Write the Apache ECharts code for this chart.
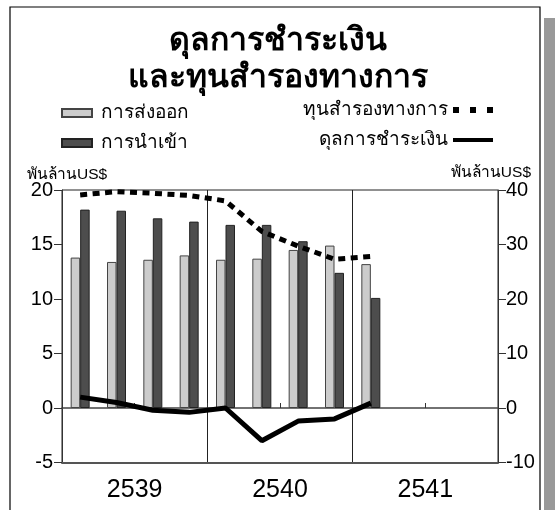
<!DOCTYPE html>
<html>
<head>
<meta charset="utf-8">
<script src="https://cdn.jsdelivr.net/npm/echarts@6/dist/echarts.min.js"></script>
<style>
html,body{margin:0;padding:0;background:#fff;}
#c{width:555px;height:510px;}
</style>
</head>
<body>
<div id="c"></div>
<script>
// ---- data ----
const quarters = ['2539 Q1','2539 Q2','2539 Q3','2539 Q4','2540 Q1','2540 Q2','2540 Q3','2540 Q4','2541 Q1','2541 Q2','2541 Q3','2541 Q4'];
const years = ['2539','2540','2541'];
const exportsVal = [13.8, 13.4, 13.6, 14.0, 13.6, 13.7, 14.5, 14.9, 13.2, null, null, null];
const importsVal = [18.2, 18.1, 17.4, 17.1, 16.8, 16.8, 15.3, 12.4, 10.1, null, null, null];
const reservesVal = [39.1, 39.7, 39.4, 39.0, 38.0, 32.4, 29.7, 27.3, 27.8, null, null, null];
const balanceVal = [1.0, 0.5, -0.2, -0.4, 0.0, -3.0, -1.2, -1.0, 0.45, null, null, null];
const leftTicks = {min: -5, max: 20, interval: 5};
const rightTicks = {min: -10, max: 40, interval: 10};

const titleText = 'ดุลการชำระเงิน\nและทุนสำรองทางการ';
const nameExports = 'การส่งออก';
const nameImports = 'การนำเข้า';
const nameReserves = 'ทุนสำรองทางการ';
const nameBalance = 'ดุลการชำระเงิน';
const unitText = 'พันล้านUS$';

const FONT = "'Liberation Sans', Arial, 'DejaVu Sans', sans-serif";

const chart = echarts.init(document.getElementById('c'), null, {renderer: 'canvas'});
chart.setOption({
  backgroundColor: '#fff',
  animation: false,
  textStyle: {fontFamily: FONT},
  title: {
    text: titleText,
    left: 'center',
    top: 18,
    textStyle: {fontSize: 32, fontWeight: 'bold', lineHeight: 37, color: '#000', fontFamily: FONT}
  },
  legend: [
    {
      orient: 'vertical',
      left: 61, top: 102, padding: 0,
      itemWidth: 30, itemHeight: 8, itemGap: 8,
      textStyle: {fontSize: 19, color: '#000', lineHeight: 22, padding: [0,0,0,4]},
      data: [
        {name: nameExports, icon: 'rect'},
        {name: nameImports, icon: 'rect'}
      ]
    },
    {
      orient: 'vertical',
      right: 62, top: 99, padding: 0,
      align: 'right',
      itemGap: 8,
      textStyle: {fontSize: 19, color: '#000', lineHeight: 22},
      data: [
        {name: nameReserves, icon: 'path://M0,0h6v6h-6zM17,0h6v6h-6zM34,0h6v6h-6z', itemStyle: {borderWidth: 0, color: '#000'}},
        {name: nameBalance, icon: 'path://M0,0h41v4h-41z', itemStyle: {borderWidth: 0, color: '#000'}}
      ],
      itemWidth: 40, itemHeight: 6
    }
  ],
  grid: {
    left: 62, right: 57, top: 190, bottom: 47.5,
    show: true, borderColor: '#222', borderWidth: 1, backgroundColor: 'transparent'
  },
  xAxis: [
    {
      type: 'category', data: quarters, position: 'bottom',
      axisLine: {show: true, onZero: true, lineStyle: {color: '#444', width: 1.5}},
      axisTick: {show: true, inside: true, length: 5, lineStyle: {color: '#333'}},
      axisLabel: {show: false},
      splitLine: {show: false}
    },
    {
      type: 'category', data: years, position: 'bottom',
      axisLine: {show: true, onZero: false, lineStyle: {color: '#555', width: 2}},
      axisTick: {show: false},
      axisLabel: {show: true, fontSize: 25, color: '#000', margin: 15, fontFamily: FONT},
      splitLine: {show: true, lineStyle: {color: '#222', width: 1}}
    }
  ],
  yAxis: [
    {
      type: 'value', position: 'left',
      min: leftTicks.min, max: leftTicks.max, interval: leftTicks.interval,
      axisLine: {show: true, onZero: false, lineStyle: {color: '#333', width: 1}},
      axisTick: {show: true, length: 8, lineStyle: {color: '#333'}},
      axisLabel: {fontSize: 20, color: '#000', margin: 9, fontFamily: FONT},
      splitLine: {show: false}
    },
    {
      type: 'value', position: 'right',
      min: rightTicks.min, max: rightTicks.max, interval: rightTicks.interval,
      axisLine: {show: true, onZero: false, lineStyle: {color: '#333', width: 1}},
      axisTick: {show: true, length: 8, lineStyle: {color: '#333'}},
      axisLabel: {fontSize: 20, color: '#000', margin: 8, fontFamily: FONT},
      splitLine: {show: false}
    }
  ],
  series: [
    {
      name: nameExports, type: 'bar', xAxisIndex: 0, yAxisIndex: 0,
      data: exportsVal, barWidth: 9.5, barGap: '0%',
      itemStyle: {color: '#cccccc', borderColor: '#444', borderWidth: 1}
    },
    {
      name: nameImports, type: 'bar', xAxisIndex: 0, yAxisIndex: 0,
      data: importsVal, barWidth: 9.5, barGap: '0%',
      itemStyle: {color: '#4d4d4d', borderColor: '#222', borderWidth: 1}
    },
    {
      name: nameReserves, type: 'line', xAxisIndex: 0, yAxisIndex: 1,
      data: reservesVal, symbol: 'none', z: 5,
      itemStyle: {color: '#000'},
      lineStyle: {color: '#000', width: 5, type: [7, 5.5]}
    },
    {
      name: nameBalance, type: 'line', xAxisIndex: 0, yAxisIndex: 0,
      data: balanceVal, symbol: 'none', z: 6,
      itemStyle: {color: '#000'},
      lineStyle: {color: '#000', width: 5}
    }
  ],
  graphic: [
    {type: 'rect', shape: {x: 544, y: 18, width: 20, height: 500}, style: {fill: '#999'}, silent: true},
    {type: 'rect', shape: {x: 10, y: 7, width: 530, height: 520}, style: {fill: 'none', stroke: '#000', lineWidth: 1.2}, silent: true},
    {type: 'text', x: 27, y: 175, style: {text: unitText, fill: '#000', verticalAlign: 'middle', font: '15.5px ' + FONT}},
    {type: 'text', x: 531, y: 173, style: {text: unitText, fill: '#000', align: 'right', verticalAlign: 'middle', font: '15.5px ' + FONT}}
  ]
});
</script>
</body>
</html>
